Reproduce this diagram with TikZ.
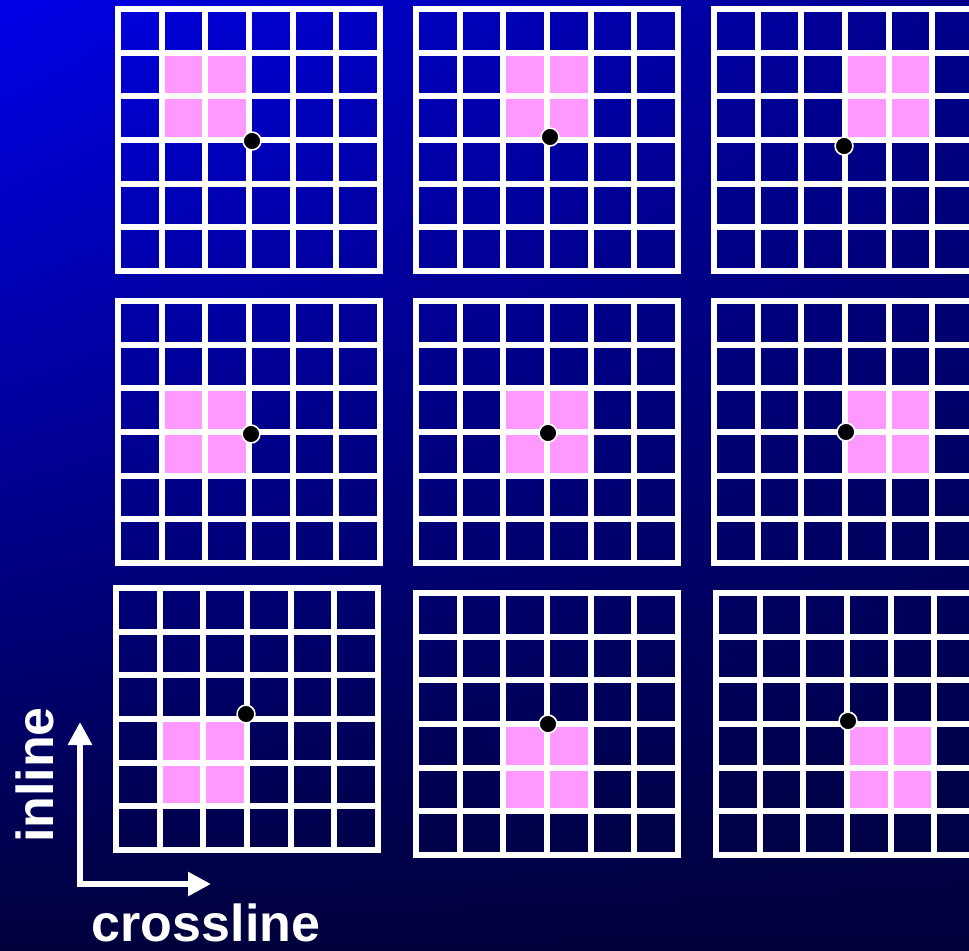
\documentclass[tikz,border=0pt]{standalone}
\usepackage{fontspec}
\setmainfont{Liberation Sans}
\usetikzlibrary{arrows.meta}
\definecolor{bgbot}{RGB}{0,0,60}
\definecolor{pinkc}{RGB}{255,153,255}
\tikzset{
  gridline/.style={white, line width=4.5pt},
  dotmark/.style={circle, fill=black, draw=white, line width=1.2pt, minimum size=13.4pt, inner sep=0pt},
  axisarrow/.style={white, line width=4.5pt, line join=miter},
  axislabel/.style={text=white, font=\bfseries\fontsize{39}{39}\selectfont, inner sep=0pt},
  pinkcell/.style={fill=pinkc}
}
\newcommand\drawmygrid[4]{%
  \begin{scope}[shift={(#1,#2)}]
    \fill[pinkcell] ({3+#3*43.667},{3+#4*43.667}) rectangle ++(87.33,87.33);
    \foreach \k in {0,...,6}{
      \draw[gridline] ({3+\k*43.667},0) -- ({3+\k*43.667},268);
      \draw[gridline] (0,{3+\k*43.667}) -- (268,{3+\k*43.667});
    }
  \end{scope}}
\begin{document}
\begin{tikzpicture}[x=0.75pt,y=-0.75pt]
  \useasboundingbox (0,0) rectangle (969,950);
  \clip (0,0) rectangle (969,950);
  % background: columns, each a vertical gradient, top colour darkening to the right
  \foreach \i in {0,...,96}{
    \pgfmathtruncatemacro\tb{232-92*\i/96}
    \shade[top color={rgb,255:red,0;green,0;blue,\tb}, bottom color=bgbot]
      ({\i*10},0) rectangle ({\i*10+10.6},950);
  }
  % grids: x0 y0 pinkcol pinkrow
  \drawmygrid{115}{6}{1}{1}
  \drawmygrid{413}{6}{2}{1}
  \drawmygrid{711}{6}{3}{1}
  \drawmygrid{115}{298}{1}{2}
  \drawmygrid{413}{298}{2}{2}
  \drawmygrid{711}{298}{3}{2}
  \drawmygrid{113}{585}{1}{3}
  \drawmygrid{413}{590}{2}{3}
  \drawmygrid{713}{590}{3}{3}
  % dots
  \node[dotmark] (d1) at (252,141) {};
  \node[dotmark] (d2) at (550,137) {};
  \node[dotmark] (d3) at (844,146) {};
  \node[dotmark] (d4) at (251,434) {};
  \node[dotmark] (d5) at (548,433) {};
  \node[dotmark] (d6) at (846,432) {};
  \node[dotmark] (d7) at (246,714) {};
  \node[dotmark] (d8) at (548,724) {};
  \node[dotmark] (d9) at (848,721) {};
  % axes
  \coordinate (ytip) at (80,722);
  \coordinate (corner) at (80,884);
  \coordinate (xtip) at (211,884);
  \draw[axisarrow, {Triangle[width=17.25pt,length=17.25pt]}-{Triangle[width=17.25pt,length=17.25pt]}] (ytip) -- (corner) -- (xtip);
  \node[axislabel, rotate=90, anchor=base] (inl) at (53,775) {inline};
  \node[axislabel, anchor=base] (cross) at (206,941) {crossline};
\end{tikzpicture}
\end{document}
